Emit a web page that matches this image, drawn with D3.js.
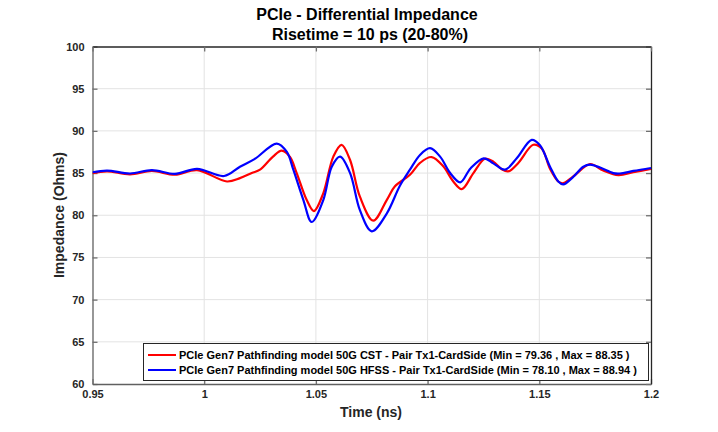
<!DOCTYPE html>
<html><head><meta charset="utf-8">
<script src="https://cdn.jsdelivr.net/npm/d3@7"></script>
<style>body{margin:0;background:#fff;} text{font-family:"Liberation Sans",Arial,sans-serif;}</style>
</head><body><svg id="c" width="718" height="432"></svg>
<script>
const titleLines = ["PCIe - Differential Impedance", "Risetime = 10 ps (20-80%)"];
const xLabel = "Time (ns)";
const yLabel = "Impedance (Ohms)";
const xTicks = [0.95, 1, 1.05, 1.1, 1.15, 1.2];
const yTicks = [60, 65, 70, 75, 80, 85, 90, 95, 100];
const seriesNames = [
  "PCIe Gen7 Pathfinding model 50G CST - Pair Tx1-CardSide (Min = 79.36 , Max = 88.35 )",
  "PCIe Gen7 Pathfinding model 50G HFSS - Pair Tx1-CardSide (Min = 78.10 , Max = 88.94 )"
];
const seriesColors = ["#ff0000", "#0000ff"];
const cstTime = [0.95,0.9565,0.9668,0.9766,0.9869,0.9968,1.0102,1.016,1.0213,1.025,1.0308,1.0347,1.0384,1.0414,1.0459,1.0491,1.0533,1.0578,1.0615,1.0653,1.0697,1.0757,1.0817,1.0853,1.0921,1.0966,1.1018,1.107,1.1115,1.1153,1.1205,1.1257,1.1294,1.1332,1.1361,1.1406,1.1473,1.1511,1.1548,1.1585,1.1607,1.1652,1.1727,1.1786,1.1854,1.1921,1.2];
const cstZ = [85.0,85.2,84.85,85.25,84.8,85.35,84.0,84.4,85.0,85.4,86.95,87.65,86.9,85.0,81.8,80.5,82.6,86.95,88.35,86.55,82.2,79.36,81.8,83.4,84.8,86.2,86.9,85.8,84.0,83.1,85.0,86.7,86.35,85.45,85.2,86.2,88.35,87.9,85.5,84.0,83.8,84.6,86.05,85.3,84.75,85.1,85.5];
const hfssTime = [0.95,0.9565,0.9668,0.9766,0.9869,0.9968,1.0089,1.016,1.0225,1.0325,1.037,1.0399,1.0444,1.0481,1.0533,1.0571,1.0608,1.0653,1.0697,1.075,1.0817,1.0876,1.0921,1.0966,1.1011,1.1056,1.1101,1.1146,1.1192,1.1251,1.1294,1.1346,1.1399,1.1466,1.1503,1.1548,1.1585,1.1607,1.1652,1.1697,1.1727,1.1772,1.1831,1.1861,1.1921,1.2];
const hfssZ = [85.1,85.3,84.95,85.35,84.9,85.5,84.65,85.75,86.65,88.5,87.5,85.4,81.8,79.2,81.8,85.75,86.95,85.0,80.6,78.1,80.2,83.5,85.4,87.15,87.95,86.95,85.0,83.9,85.55,86.75,86.15,85.4,86.75,88.94,88.3,85.75,84.0,83.65,84.55,85.75,86.0,85.65,85.0,84.95,85.25,85.6];

const svg = d3.select("#c");
const L = 92.5, R = 651, T = 46.5, B = 384;
const x = d3.scaleLinear().domain([0.95, 1.2]).range([L, R]);
const y = d3.scaleLinear().domain([60, 100]).range([B, T]);

// grid
const g = svg.append("g");
g.selectAll(".gx").data(xTicks.slice(1, -1)).join("line")
  .attr("x1", d => x(d)).attr("x2", d => x(d)).attr("y1", T).attr("y2", B)
  .attr("stroke", "#e3e3e3").attr("stroke-width", 1);
g.selectAll(".gy").data(yTicks.slice(1, -1)).join("line")
  .attr("x1", L).attr("x2", R).attr("y1", d => y(d)).attr("y2", d => y(d))
  .attr("stroke", "#e3e3e3").attr("stroke-width", 1);

// axes
const axL = svg.append("g").attr("transform", `translate(${L},0)`)
  .call(d3.axisLeft(y).tickValues(yTicks).tickSizeInner(-5).tickSizeOuter(0).tickPadding(8).tickFormat(d3.format("d")));
const axB = svg.append("g").attr("transform", `translate(0,${B})`)
  .call(d3.axisBottom(x).tickValues(xTicks).tickSizeInner(-5).tickSizeOuter(0).tickPadding(6).tickFormat(d => String(d)));
const axR = svg.append("g").attr("transform", `translate(${R},0)`)
  .call(d3.axisRight(y).tickValues(yTicks).tickSizeInner(-5).tickSizeOuter(0).tickFormat(""));
const axT = svg.append("g").attr("transform", `translate(0,${T})`)
  .call(d3.axisTop(x).tickValues(xTicks).tickSizeInner(-5).tickSizeOuter(0).tickFormat(""));
[axL, axB, axR, axT].forEach(a => {
  a.select(".domain").attr("stroke", "#262626").attr("stroke-width", 1.3);
  a.selectAll(".tick line").attr("stroke", "#707070").attr("stroke-width", 1.3);
  a.selectAll(".tick text").attr("fill", "#262626").style("font-size", "11px").style("font-weight", "bold")
    .style("font-family", "'Liberation Sans', Arial, sans-serif");
});
axL.select(".domain").attr("stroke", "#606060");
axB.select(".domain").attr("stroke", "#606060");

// lines
const line = d3.line().x(d => x(d[0])).y(d => y(d[1])).curve(d3.curveCatmullRom.alpha(0.5));
const clip = svg.append("clipPath").attr("id", "pc").append("rect").attr("x", L).attr("y", T).attr("width", R - L).attr("height", B - T);
const datasets = [d3.zip(cstTime, cstZ), d3.zip(hfssTime, hfssZ)];
svg.append("g").attr("clip-path", "url(#pc)").selectAll("path").data(datasets).join("path")
  .attr("d", line).attr("fill", "none").attr("stroke", (d, i) => seriesColors[i]).attr("stroke-width", 2.2)
  .attr("stroke-linejoin", "round");

// titles
svg.append("text").attr("x", 367).attr("y", 20).attr("text-anchor", "middle")
  .style("font-size", "16px").style("font-weight", "bold").attr("fill", "#000").text(titleLines[0]);
svg.append("text").attr("x", 370).attr("y", 40).attr("text-anchor", "middle")
  .style("font-size", "16px").style("font-weight", "bold").attr("fill", "#000").text(titleLines[1]);
svg.append("text").attr("x", 371).attr("y", 417).attr("text-anchor", "middle")
  .style("font-size", "14px").style("font-weight", "bold").attr("fill", "#262626").text(xLabel);
svg.append("text").attr("transform", "translate(64,215) rotate(-90)").attr("text-anchor", "middle")
  .style("font-size", "14px").style("font-weight", "bold").attr("fill", "#262626").text(yLabel);

// legend
const lg = svg.append("g");
lg.append("rect").attr("x", 143.5).attr("y", 343.5).attr("width", 505).attr("height", 37)
  .attr("fill", "#fff").attr("stroke", "#262626").attr("stroke-width", 1);
seriesNames.forEach((n, i) => {
  const yy = 355 + i * 15;
  lg.append("line").attr("x1", 148).attr("x2", 176).attr("y1", yy).attr("y2", yy)
    .attr("stroke", seriesColors[i]).attr("stroke-width", 2);
  lg.append("text").attr("x", 179).attr("y", yy + 4).style("font-size", "11px").style("font-weight", "bold")
    .attr("fill", "#000").text(n);
});
</script></body></html>
